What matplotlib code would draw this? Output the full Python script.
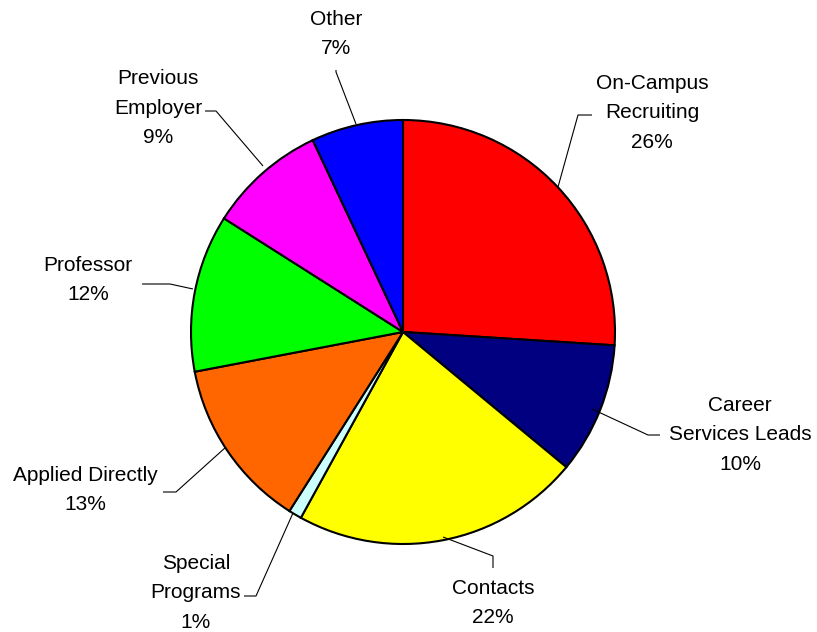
import matplotlib
matplotlib.use("Agg")
import matplotlib.pyplot as plt

categories = ["On-Campus\nRecruiting", "Career\nServices Leads", "Contacts", "Special\nPrograms",
              "Applied Directly", "Professor", "Previous\nEmployer", "Other"]
values = [26, 10, 22, 1, 13, 12, 9, 7]
colors = ["#FF0000", "#000080", "#FFFF00", "#CCFFFF", "#FF6600", "#00FF00", "#FF00FF", "#0000FF"]

W, H = 817, 632
fig = plt.figure(figsize=(W / 100, H / 100), dpi=100)
ax = fig.add_axes([0, 0, 1, 1])
ax.set_xlim(0, W)
ax.set_ylim(0, H)
ax.set_aspect("equal")
ax.axis("off")

cx, cy, r = 403, H - 332, 212
ax.pie(values, colors=colors, startangle=90, counterclock=False, center=(cx, cy), radius=r,
       wedgeprops=dict(edgecolor="black", linewidth=1.5))
ax.set_xlim(0, W)
ax.set_ylim(0, H)

# label centre (pixel coords) and leader polylines (pixel coords)
label_pos = [(652, 113), (740, 435), (493, 603), (196, 593), (85, 490), (88, 280), (158, 108), (336, 34)]
leaders = [
    [(592, 115), (578, 115), (558, 187)],
    [(660, 435), (648, 435), (592, 409)],
    [(493, 568), (493, 556), (443, 537)],
    [(244, 596), (256, 596), (293, 513)],
    [(163, 492), (176, 492), (226, 447)],
    [(142, 284), (170, 284), (193, 289)],
    [(205, 111), (216, 111), (263, 166)],
    [(336, 70), (336, 72), (356, 124)],
]

for lab, v, (lx, ly), pts in zip(categories, values, label_pos, leaders):
    txt = f"{lab}\n{v}%"
    ax.text(lx, H - ly, txt, ha="center", va="center", fontsize=15, family="Liberation Sans",
            linespacing=1.72, color="black")
    xs = [p[0] for p in pts]
    ys = [H - p[1] for p in pts]
    ax.plot(xs, ys, color="black", linewidth=0.8, solid_capstyle="butt")

fig.savefig("out.png", dpi=100)
